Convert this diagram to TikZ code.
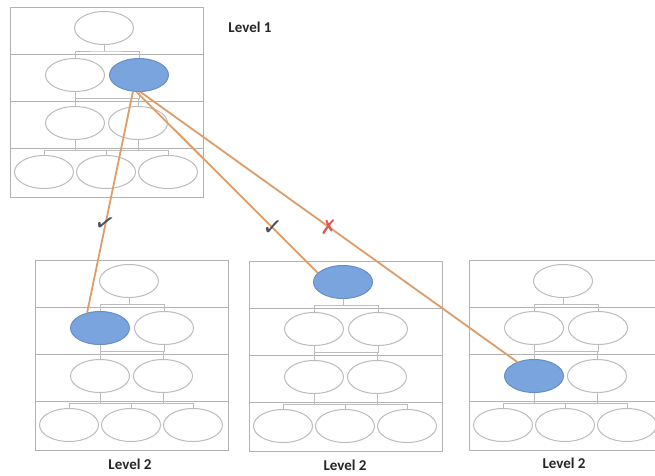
\documentclass[tikz,border=0pt]{standalone}
\usepackage{fontspec}
\setmainfont{Carlito}
\newfontfamily\symfont{DejaVu Sans}
\usetikzlibrary{shapes.geometric}

\definecolor{gridline}{RGB}{178,178,178}
\definecolor{bubline}{RGB}{188,188,188}
\definecolor{hifill}{RGB}{122,164,222}
\definecolor{hiline}{RGB}{104,142,200}
\definecolor{linkorange}{RGB}{222,156,104}
\definecolor{tickgray}{RGB}{72,80,96}
\definecolor{crossred}{RGB}{228,86,74}

\tikzset{
  bub/.style={ellipse, draw=bubline, fill=white, line width=1pt,
    minimum width=59pt, minimum height=33pt, inner sep=0pt},
  hilite/.style={bub, fill=hifill, draw=hiline},
  panelline/.style={draw=gridline, line width=0.9pt},
  stem/.style={draw=bubline, line width=0.9pt},
  link/.style={draw=linkorange, line width=1.8pt},
  lvl/.style={font=\bfseries\fontsize{15}{17}\selectfont, text=black!85, inner sep=1pt},
  okmark/.style={font=\symfont\fontsize{24}{24}\selectfont, text=tickgray, inner sep=0pt},
  nomark/.style={font=\symfont\fontsize{20}{20}\selectfont, text=crossred, inner sep=0pt},
}

% One org-chart panel: #1 name prefix, #2 left, #3 top, #4 highlighted bubble
\newcommand{\orgpanel}[4]{%
  \begin{scope}[shift={(#2,#3)}]
    \tikzset{pick t/.style={bub}, pick a/.style={bub}, pick b/.style={bub},
      pick c/.style={bub}, pick d/.style={bub}, pick e/.style={bub},
      pick f/.style={bub}, pick g/.style={bub}, pick #4/.style={hilite}}
    \draw[panelline] (0,0) rectangle (193,190);
    \draw[panelline] (0,47) -- (193,47) (0,94) -- (193,94) (0,141) -- (193,141);
    \node[pick t] (#1t) at (94,21) {};
    \node[pick a] (#1a) at (65,68) {};
    \node[pick b] (#1b) at (129,68) {};
    \node[pick c] (#1c) at (65,116) {};
    \node[pick d] (#1d) at (128,116) {};
    \node[pick e] (#1e) at (34,165) {};
    \node[pick f] (#1f) at (96,165) {};
    \node[pick g] (#1g) at (158,165) {};
    \coordinate (#1j1) at (94,44);
    \coordinate (#1j2) at (97,91.5);
    \coordinate (#1j3) at (96,143);
    \draw[stem] (#1t.south) -- (#1j1);
    \draw[stem] (#1a.north) |- (#1j1) -| (#1b.north);
    \draw[stem] (#1a.south) |- (#1j2) -| (#1b.south);
    \draw[stem] (#1c.north) |- (#1j2);
    \draw[stem] (#1d.north) |- (#1j2);
    \draw[stem] (#1e.north) |- (#1j3) -| (#1g.north);
    \draw[stem] (#1f.north) -- (#1j3);
    \draw[stem] (#1c.south) |- (#1j3);
    \draw[stem] (#1d.south) |- (#1j3);
  \end{scope}}

\begin{document}
\begin{tikzpicture}[x=1pt, y=-1pt]
  \useasboundingbox (0,0) rectangle (655,475);
  \fill[white] (0,0) rectangle (655,475);
  \clip (0,0) rectangle (655,475);

  % upper chart and the three lower charts
  \orgpanel{l1}{10}{7}{b}
  \orgpanel{pa}{35}{260}{a}
  \orgpanel{pb}{249}{261}{t}
  \orgpanel{pc}{469}{260}{c}

  \node[lvl] (lab1) at (250,27) {Level 1};
  \node[lvl] (laba) at (130,464) {Level 2};
  \node[lvl] (labb) at (345,465) {Level 2};
  \node[lvl] (labc) at (564,463) {Level 2};

  % links from the upper highlighted bubble to each lower one
  \draw[link] (l1b.250) -- node[pos=0.6, okmark, rotate=-15] (ok1) {✓} (paa.130);
  \draw[link] (l1b.262) -- node[pos=0.75, okmark, rotate=-5] (ok2) {✓} (pbt.160);
  \draw[link] (l1b.275) -- node[pos=0.5, nomark] (no3) {✗} (pcc.140);
\end{tikzpicture}
\end{document}
